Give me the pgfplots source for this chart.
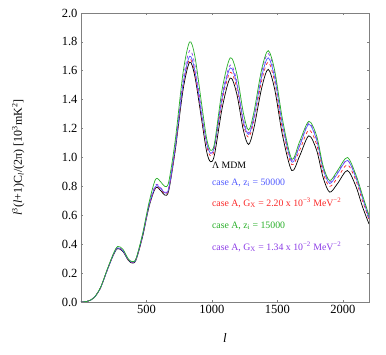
\documentclass[border=0pt]{standalone}
\usepackage{pgfplots}
\pgfplotsset{compat=1.18}
\usepackage{pgfplotstable}
\usepackage{fontspec}
\setmainfont{Liberation Serif}
\definecolor{cblue}{RGB}{80,90,255}
\definecolor{cred}{RGB}{250,40,40}
\definecolor{cgreen}{RGB}{40,175,40}
\definecolor{cpurple}{RGB}{140,60,230}
\definecolor{axgray}{RGB}{128,128,128}
\pgfplotstableread{
l     bk    bl    rd    gr    pu
0     0     0     0     0     0
50    0.005 0.005 0.005 0.005 0.005
100   0.03  0.03  0.03  0.03  0.03
150   0.10  0.10  0.10  0.102 0.10
200   0.22  0.22  0.22  0.225 0.22
250   0.33  0.335 0.335 0.34  0.335
280   0.37  0.375 0.375 0.385 0.378
320   0.35  0.355 0.355 0.365 0.357
360   0.29  0.295 0.293 0.30  0.296
390   0.27  0.275 0.273 0.28  0.276
420   0.29  0.295 0.293 0.30  0.296
470   0.45  0.46  0.455 0.47  0.46
520   0.66  0.67  0.665 0.69  0.675
570   0.79  0.80  0.795 0.85  0.81
610   0.77  0.785 0.78  0.83  0.79
640   0.74  0.755 0.75  0.80  0.76
670   0.77  0.785 0.78  0.83  0.79
720   1.05  1.07  1.06  1.12  1.08
780   1.47  1.51  1.50  1.59  1.54
830   1.66  1.70  1.68  1.80  1.74
870   1.56  1.60  1.58  1.70  1.64
920   1.27  1.31  1.29  1.38  1.33
960   1.04  1.10  1.08  1.13  1.10
990   0.97  1.03  1.01  1.05  1.03
1020  1.02  1.08  1.06  1.10  1.08
1080  1.35  1.42  1.40  1.48  1.44
1140  1.55  1.62  1.59  1.69  1.64
1190  1.44  1.51  1.48  1.58  1.53
1240  1.19  1.25  1.23  1.31  1.27
1280  1.09  1.16  1.14  1.19  1.17
1320  1.20  1.27  1.25  1.31  1.28
1380  1.48  1.56  1.53  1.61  1.59
1430  1.61  1.69  1.66  1.74  1.72
1480  1.47  1.55  1.52  1.60  1.58
1540  1.15  1.22  1.19  1.26  1.24
1610  0.91  0.97  0.95  0.99  0.98
1670  1.01  1.08  1.05  1.11  1.09
1740  1.15  1.23  1.19  1.25  1.24
1800  1.05  1.12  1.09  1.15  1.13
1850  0.86  0.92  0.89  0.94  0.93
1900  0.76  0.82  0.80  0.84  0.83
1960  0.82  0.89  0.86  0.91  0.90
2035  0.91  0.98  0.95  1.00  0.98
2100  0.80  0.86  0.84  0.88  0.87
2150  0.66  0.72  0.70  0.74  0.73
2200  0.54  0.58  0.57  0.60  0.59
}\cmb
\begin{document}
\begin{tikzpicture}
\begin{axis}[
  name=ax,
  scale only axis,
  width=288pt, height=289pt,
  xmin=0, xmax=2200, ymin=0, ymax=2.0,
  xtick={500,1000,1500,2000},
  ytick={0,0.2,...,2.0},
  /pgf/number format/assume math mode=true,
  /pgf/number format/1000 sep={},
  yticklabel style={/pgf/number format/fixed,/pgf/number format/fixed zerofill,/pgf/number format/precision=1},
  tick label style={font=\fontsize{12.5}{12.5}\selectfont},
  tick align=inside,
  major tick length=2pt,
  every tick/.style={axgray, line width=0.6pt},
  axis line style={axgray, line width=0.9pt},
  xlabel={\textit{l}},
  xlabel style={font=\fontsize{13}{13}\selectfont, at={(0.5,-0.125)}, anchor=center},
  ylabel={\textit{l}\textsuperscript{3}(\textit{l}+1)C\textsubscript{\textit{l}}/(2π) [10\textsuperscript{3}mK\textsuperscript{2}]},
  ylabel style={font=\fontsize{12}{12}\selectfont, at={(-0.218,0.5)}, anchor=center},
  every axis plot/.append style={smooth, tension=0.5, line width=0.7pt},
]
\addplot[black] table[x=l,y=bk] {\cmb};
\addplot[cred, dashed] table[x=l,y=rd] {\cmb};
\addplot[cblue] table[x=l,y=bl] {\cmb};
\addplot[cpurple, dashed] table[x=l,y=pu] {\cmb};
\addplot[cgreen] table[x=l,y=gr] {\cmb};
\node[anchor=west, font=\fontsize{9.8}{9.8}\selectfont, text=black, inner sep=0pt] at (axis cs:1000,0.948) {Λ MDM};
\node[anchor=west, font=\fontsize{9.8}{9.8}\selectfont, text=cblue, inner sep=0pt] at (axis cs:1000,0.824) {case A, z\textsubscript{i} = 50000};
\node[anchor=west, font=\fontsize{9.8}{9.8}\selectfont, text=cred, inner sep=0pt] at (axis cs:1000,0.685) {case A, G\textsubscript{X} = 2.20 x 10\textsuperscript{−3} MeV\textsuperscript{−2}};
\node[anchor=west, font=\fontsize{9.8}{9.8}\selectfont, text=cgreen, inner sep=0pt] at (axis cs:1000,0.526) {case A, z\textsubscript{i} = 15000};
\node[anchor=west, font=\fontsize{9.8}{9.8}\selectfont, text=cpurple, inner sep=0pt] at (axis cs:1000,0.381) {case A, G\textsubscript{X} = 1.34 x 10\textsuperscript{−2} MeV\textsuperscript{−2}};
\end{axis}
\path ([xshift=-81pt,yshift=-53pt]ax.south west) rectangle ([xshift=17pt,yshift=13pt]ax.north east);
\end{tikzpicture}
\end{document}
